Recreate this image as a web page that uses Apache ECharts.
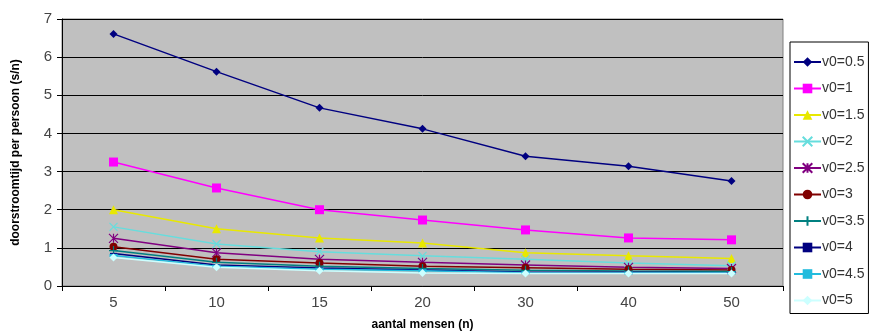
<!DOCTYPE html>
<html><head><meta charset="utf-8">
<script src="https://cdn.jsdelivr.net/npm/echarts@6/dist/echarts.min.js"></script>
<style>html,body{margin:0;padding:0;background:#fff}#c{width:875px;height:336px}</style>
</head><body><div id="c"></div>
<script>
const categories = ['5','10','15','20','30','40','50'];
const seriesNames = ['v0=0.5','v0=1','v0=1.5','v0=2','v0=2.5','v0=3','v0=3.5','v0=4','v0=4.5','v0=5'];
const v05 = [6.61, 5.62, 4.67, 4.12, 3.40, 3.14, 2.75];
const v1  = [3.25, 2.57, 2.00, 1.73, 1.47, 1.26, 1.21];
const v15 = [2.00, 1.50, 1.26, 1.13, 0.87, 0.79, 0.72];
const v2  = [1.55, 1.10, 0.90, 0.79, 0.70, 0.60, 0.53];
const v25 = [1.25, 0.87, 0.70, 0.62, 0.55, 0.49, 0.46];
const v3  = [1.03, 0.70, 0.60, 0.52, 0.48, 0.44, 0.42];
const v35 = [0.93, 0.62, 0.52, 0.46, 0.41, 0.39, 0.38];
const v4  = [0.85, 0.55, 0.47, 0.42, 0.37, 0.36, 0.35];
const v45 = [0.80, 0.52, 0.44, 0.40, 0.35, 0.34, 0.34];
const v5  = [0.75, 0.49, 0.40, 0.34, 0.33, 0.33, 0.33];
const yTicks = [0,1,2,3,4,5,6,7];

const values = [v05,v1,v15,v2,v25,v3,v35,v4,v45,v5];
const colors = ['#000080','#FF00FF','#E8E800','#66DDDD','#800080','#800000','#008080','#000080','#22BBDD','#CCFFFF'];
const symbols = [
  'diamond','rect','triangle',
  'path://M0,0L10,10M10,0L0,10',
  'path://M0,0L10,10M10,0L0,10M5,0L5,10',
  'circle',
  'path://M5,0L5,10M0,5L10,5',
  'path://M0,4L10,4L10,6L0,6Z',
  'path://M0,3L10,3L10,7L0,7Z',
  'diamond'
];
const sizes = [8,9,9,8,9,8,9,7,8,8];
const strokeSym = [false,false,false,true,true,false,true,false,false,false];

const series = values.map((d,i)=>({
  name: seriesNames[i], type:'line', data:d,
  symbol: symbols[i], symbolSize: sizes[i], symbolKeepAspect: true,
  lineStyle:{color:colors[i], width:1.5},
  itemStyle: strokeSym[i] ? {color:colors[i], borderColor:colors[i], borderWidth:1.2} : {color:colors[i]},
  emphasis:{disabled:true}
}));

const chart = echarts.init(document.getElementById('c'), null, {renderer:'canvas'});
chart.setOption({
  animation:false,
  backgroundColor:'#fff',
  color: colors,
  grid:{left:62, right:92, top:19, bottom:50, show:true, backgroundColor:'#C0C0C0', borderColor:'#808080', borderWidth:1},
  xAxis:{
    type:'category', data:categories, boundaryGap:true,
    name:'aantal mensen (n)', nameLocation:'middle', nameGap:33,
    nameTextStyle:{fontFamily:'Liberation Sans', fontWeight:'bold', fontSize:12, color:'#000'},
    axisLine:{lineStyle:{color:'#000', width:1}},
    axisTick:{show:true, alignWithLabel:false, length:5, lineStyle:{color:'#000'}},
    axisLabel:{fontFamily:'Liberation Sans', fontSize:15, color:'#444', margin:9},
    splitLine:{show:false}
  },
  yAxis:{
    type:'value', min:0, max:7, interval:1,
    name:'doorstroomtijd per persoon (s/n)', nameLocation:'middle', nameGap:40, nameRotate:90,
    nameTextStyle:{fontFamily:'Liberation Sans', fontWeight:'bold', fontSize:12, color:'#000'},
    axisLine:{show:true, lineStyle:{color:'#000'}},
    axisTick:{show:true, length:5, lineStyle:{color:'#000'}},
    axisLabel:{fontFamily:'Liberation Sans', fontSize:15, color:'#444', margin:10,
      formatter:(v)=> yTicks.includes(v) ? String(v) : ''},
    splitLine:{show:true, lineStyle:{color:'#000', width:1}}
  },
  legend:{
    orient:'vertical', left:790, top:42, width:83,
    padding:[13,4,6,3], itemGap:12.5, itemWidth:27, itemHeight:12,
    borderColor:'#000', borderWidth:1, backgroundColor:'#fff',
    textStyle:{fontFamily:'Liberation Sans', fontSize:14, color:'#333', padding:[0,0,0,-4]},
    data: seriesNames
  },
  series: series
});
</script></body></html>
